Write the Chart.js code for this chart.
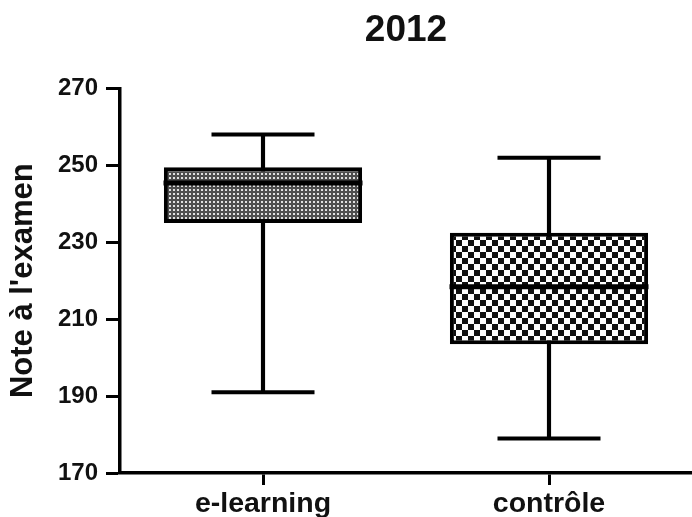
<!DOCTYPE html>
<html><head><meta charset="utf-8">
<script src="https://cdn.jsdelivr.net/npm/chart.js@4/dist/chart.umd.min.js"></script>
<style>html,body{margin:0;padding:0;background:#fff}#wrap{width:692px;height:517px;position:relative}</style>
</head><body><div id="wrap"><canvas id="c" width="692" height="517"></canvas></div>
<script>
const categories = ['e-learning', 'contrôle'];
const minValues = [191, 179];
const q1Values = [235, 203.5];
const medianValues = [245.4, 218.4];
const q3Values = [249.5, 232.5];
const maxValues = [258, 252];
const yTicks = [170, 190, 210, 230, 250, 270];
const chartTitle = '2012';
const yTitle = "Note à l'examen";

const FONT = "'Liberation Sans', Arial, Helvetica, sans-serif";
const ctxMain = document.getElementById('c').getContext('2d');
function makePattern(size, draw) {
  const c = document.createElement('canvas');
  c.width = c.height = size;
  const g = c.getContext('2d');
  draw(g, size);
  return ctxMain.createPattern(c, 'repeat');
}
const patDots = makePattern(4, (g) => {
  g.fillStyle = '#4e4e4e'; g.fillRect(0, 0, 4, 4);
  g.fillStyle = '#e0e0e0'; g.fillRect(1, 1, 2, 2);
});
const patChecker = makePattern(12, (g) => {
  g.fillStyle = '#ffffff'; g.fillRect(0, 0, 12, 12);
  g.fillStyle = '#111111'; g.fillRect(0, 0, 6, 6); g.fillRect(6, 6, 6, 6);
});

const boxRanges = categories.map((c, i) => [q1Values[i], q3Values[i]]);
const whiskerRanges = categories.map((c, i) => [minValues[i], maxValues[i]]);

new Chart(ctxMain, {
  type: 'bar',
  data: {
    labels: categories,
    datasets: [
      { type: 'line', label: 'médiane', data: medianValues, showLine: false, pointStyle: 'line',
        pointRadius: 99.5, pointHoverRadius: 99.5, pointBorderWidth: 5, borderColor: '#000', order: 0 },
      { type: 'line', label: 'max', data: maxValues, showLine: false, pointStyle: 'line',
        pointRadius: 51.5, pointHoverRadius: 51.5, pointBorderWidth: 4, borderColor: '#000', order: 1 },
      { type: 'line', label: 'min', data: minValues, showLine: false, pointStyle: 'line',
        pointRadius: 51.5, pointHoverRadius: 51.5, pointBorderWidth: 4, borderColor: '#000', order: 1 },
      { type: 'bar', label: 'boîte', data: boxRanges, backgroundColor: [patDots, patChecker],
        borderColor: '#000', borderWidth: 4, borderSkipped: false, barPercentage: 0.693,
        categoryPercentage: 1, grouped: false, order: 2 },
      { type: 'bar', label: 'moustaches', data: whiskerRanges, backgroundColor: '#000',
        borderWidth: 0, barThickness: 3.5, grouped: false, order: 3 }
    ]
  },
  options: {
    responsive: false,
    animation: false,
    events: [],
    layout: { padding: { top: 0, left: 0, bottom: 0, right: -3 }, autoPadding: false },
    plugins: {
      legend: { display: false },
      tooltip: { enabled: false },
      title: { display: true, text: chartTitle, fullSize: false, color: '#111',
        font: { family: FONT, size: 37, weight: 'bold' }, padding: { top: 9, bottom: 35 } }
    },
    scales: {
      x: {
        type: 'category', offset: true,
        grid: { display: true, drawOnChartArea: false, offset: false, tickLength: 12, tickWidth: 3, color: '#000' },
        border: { display: true, width: 3.5, color: '#000' },
        ticks: { color: '#111', font: { family: FONT, size: 28.5, weight: 'bold' }, padding: 2, maxRotation: 0 },
        afterFit(s) { s.height = 44; }
      },
      y: {
        min: 170, max: 270,
        afterBuildTicks(s) { s.ticks = yTicks.map(v => ({ value: v })); },
        grid: { drawOnChartArea: false, tickLength: 14, tickWidth: 3, color: '#000' },
        border: { display: true, width: 3.5, color: '#000' },
        ticks: { color: '#111', font: { family: FONT, size: 24, weight: 'bold' }, padding: 8 },
        title: { display: true, text: yTitle, color: '#111', font: { family: FONT, size: 31, weight: 'bold' },
          padding: { top: 5, bottom: 0 } },
        afterFit(s) { s.width = 120; }
      }
    }
  }
});
</script>
</body></html>
